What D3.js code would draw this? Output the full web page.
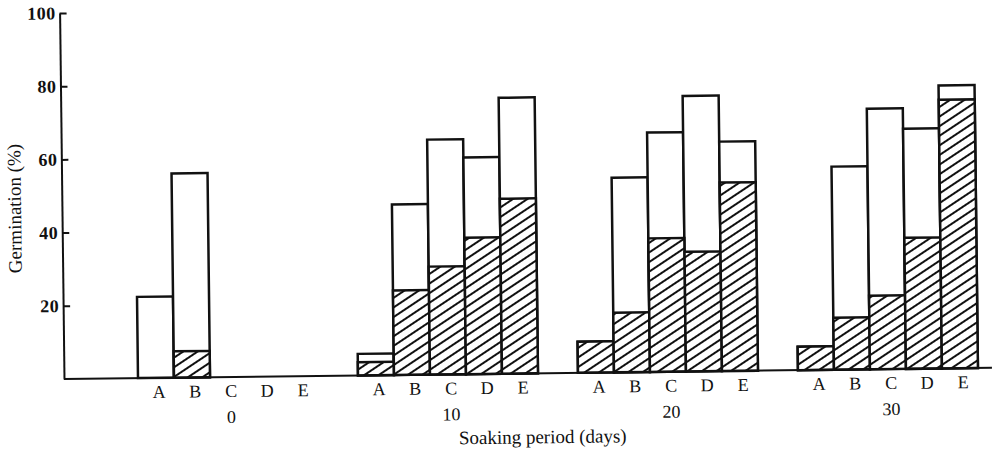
<!DOCTYPE html>
<html>
<head>
<meta charset="UTF-8">
<title>Germination vs soaking period</title>
<style>
body { margin: 0; background: #fff; }
svg text { font-family: "Liberation Serif", "DejaVu Serif", serif; fill: #111; }
</style>
</head>
<body>
<svg id="chart" width="996" height="453"></svg>
<script src="https://d3js.org/d3.v7.min.js"></script>
<script>

const periods = ["0", "10", "20", "30"];
const treatments = ["A", "B", "C", "D", "E"];
const yTicks = [20, 40, 60, 80, 100];

// total germination (%), open part of each bar
const totalDay0  = [22.2, 55.8, 0, 0, 0];
const totalDay10 = [5.9, 46.6, 64.2, 59.2, 75.4];
const totalDay20 = [8.5, 53.2, 65.4, 75.3, 62.7];
const totalDay30 = [6.4, 55.5, 71.2, 65.6, 77.3];

// hatched part of each bar
const hatchDay0  = [0, 7.2, 0, 0, 0];
const hatchDay10 = [3.6, 23.1, 29.5, 37.3, 47.8];
const hatchDay20 = [8.5, 16.3, 36.5, 32.7, 51.5];
const hatchDay30 = [6.4, 14.2, 20.1, 35.8, 73.4];

const totals = [totalDay0, totalDay10, totalDay20, totalDay30];
const hatches = [hatchDay0, hatchDay10, hatchDay20, hatchDay30];

let rows = [];
periods.forEach((p, i) => {
    treatments.forEach((t, j) => {
        rows.push({period: p, treat: t, total: totals[i][j], hatched: hatches[i][j]});
    });
});

let svg = d3.select("#chart");

let pat = svg.append("defs").append("pattern")
    .attr("id", "hatch")
    .attr("patternUnits", "userSpaceOnUse")
    .attr("width", 8)
    .attr("height", 8)
    .attr("patternTransform", "rotate(57)");
pat.append("rect").attr("width", 8).attr("height", 8).attr("fill", "#fff");
pat.append("line")
    .attr("x1", 4).attr("y1", -1)
    .attr("x2", 4).attr("y2", 9)
    .attr("stroke", "#111")
    .attr("stroke-width", 2);

// the printed figure sits slightly tilted
let plot = svg.append("g").attr("transform", "rotate(-0.69, 64, 379)");

let y = d3.scaleLinear().domain([0, 100]).range([379, 13]);
let x = d3.scaleBand().domain(periods).range([138, 978]).paddingInner(40 / 220);
let xInner = d3.scaleBand().domain(treatments).range([0, x.bandwidth()]);

let barX = d => x(d.period) + xInner(d.treat);

plot.append("g")
    .selectAll("rect")
    .data(rows.filter(d => d.total > 0))
    .enter().append("rect")
    .attr("x", barX)
    .attr("y", d => y(d.total))
    .attr("width", xInner.bandwidth())
    .attr("height", d => y(0) - y(d.total))
    .attr("fill", "#fff")
    .attr("stroke", "#111")
    .attr("stroke-width", 2.5);

plot.append("g")
    .selectAll("rect")
    .data(rows.filter(d => d.hatched > 0))
    .enter().append("rect")
    .attr("x", barX)
    .attr("y", d => y(d.hatched))
    .attr("width", xInner.bandwidth())
    .attr("height", d => y(0) - y(d.hatched))
    .attr("fill", "url(#hatch)")
    .attr("stroke", "#111")
    .attr("stroke-width", 2.5);

// baseline
plot.append("line")
    .attr("x1", 64).attr("x2", 992)
    .attr("y1", y(0)).attr("y2", y(0))
    .attr("stroke", "#111")
    .attr("stroke-width", 2);

let yAxis = plot.append("g")
    .attr("transform", "translate(64,0)")
    .call(d3.axisLeft(y)
        .tickValues(yTicks)
        .tickSizeInner(-7)
        .tickSizeOuter(0)
        .tickPadding(4));
yAxis.select(".domain").attr("stroke", "#111").attr("stroke-width", 2);
yAxis.selectAll(".tick line").attr("stroke", "#111").attr("stroke-width", 2);
yAxis.selectAll(".tick text")
    .attr("font-family", "Liberation Serif")
    .attr("font-size", 18)
    .attr("font-weight", "bold")
    .attr("letter-spacing", 0.5)
    .attr("fill", "#111");

plot.append("g")
    .selectAll("text")
    .data(rows)
    .enter().append("text")
    .attr("x", d => barX(d) + xInner.bandwidth() / 2 + 3)
    .attr("y", 399)
    .attr("text-anchor", "middle")
    .attr("font-size", 18)
    .text(d => d.treat);

plot.append("g")
    .selectAll("text")
    .data(periods)
    .enter().append("text")
    .attr("x", d => x(d) + x.bandwidth() / 2 + 3)
    .attr("y", 425)
    .attr("text-anchor", "middle")
    .attr("font-size", 18)
    .text(d => d);

plot.append("text")
    .attr("x", 542)
    .attr("y", 449)
    .attr("text-anchor", "middle")
    .attr("font-size", 19)
    .text("Soaking period (days)");

plot.append("text")
    .attr("transform", "translate(23,208) rotate(-90)")
    .attr("text-anchor", "middle")
    .attr("font-size", 19)
    .text("Germination (%)");

</script>
</body>
</html>
